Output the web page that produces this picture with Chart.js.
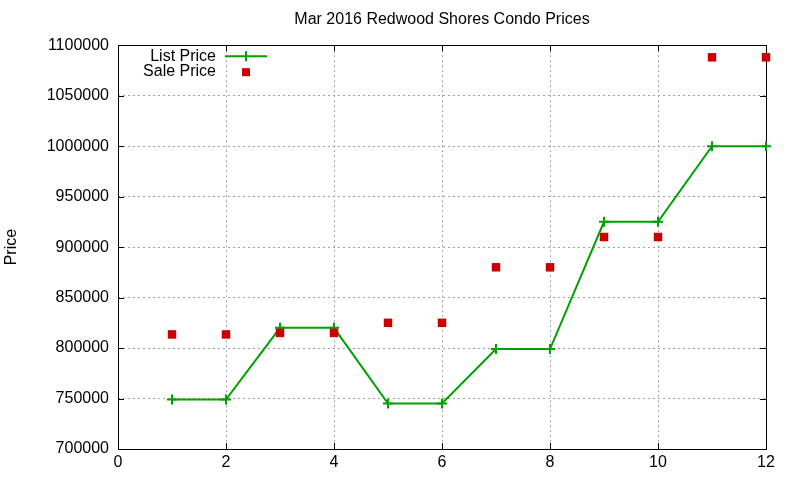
<!DOCTYPE html>
<html>
<head>
<meta charset="utf-8">
<script src="https://cdn.jsdelivr.net/npm/chart.js@4/dist/chart.umd.min.js"></script>
<style>
  html, body { margin: 0; padding: 0; background: #fff; }
  #wrap { width: 800px; height: 480px; }
</style>
</head>
<body>
<div id="wrap"><canvas id="priceChart" width="800" height="480"></canvas></div>
<script>
// chart data
const months = [1, 2, 3, 4, 5, 6, 7, 8, 9, 10, 11, 12];
const listPrice = [749000, 749000, 820000, 820000, 745000, 745000, 799000, 799000, 925000, 925000, 1000000, 1000000];
const salePrice = [813500, 813500, 815000, 815000, 825000, 825000, 880000, 880000, 910000, 910000, 1088000, 1088000];
const xTicks = [0, 2, 4, 6, 8, 10, 12];
const yTicks = [700000, 750000, 800000, 850000, 900000, 950000, 1000000, 1050000, 1100000];

const FONT = "'Liberation Sans', Arial, sans-serif";

// gnuplot style frame: border box plus short ticks pointing inward
// drawn before the datasets so points on the edge sit on top
const framePlugin = {
  id: "frame",
  beforeDatasetsDraw(chart) {
    const { ctx, chartArea: a, scales } = chart;
    ctx.save();
    ctx.strokeStyle = "#000";
    ctx.lineWidth = 1;
    ctx.beginPath();
    xTicks.forEach(function (t) {
      const px = Math.round(scales.x.getPixelForValue(t)) + 0.5;
      ctx.moveTo(px, a.bottom); ctx.lineTo(px, a.bottom - 6);
      ctx.moveTo(px, a.top); ctx.lineTo(px, a.top + 6);
    });
    yTicks.forEach(function (t) {
      const py = Math.round(scales.y.getPixelForValue(t)) + 0.5;
      ctx.moveTo(a.left, py); ctx.lineTo(a.left + 6, py);
      ctx.moveTo(a.right, py); ctx.lineTo(a.right - 6, py);
    });
    ctx.stroke();
    ctx.strokeRect(Math.round(a.left) + 0.5, Math.round(a.top) + 0.5,
      Math.round(a.right - a.left), Math.round(a.bottom - a.top));
    ctx.restore();
  }
};

// legend inside the plot, top left, like gnuplot's key
const keyPlugin = {
  id: "key",
  afterDraw(chart) {
    const { ctx, chartArea: a } = chart;
    const textRight = a.left + 98;
    const sampleMid = a.left + 128;
    ctx.save();
    ctx.font = "16px " + FONT;
    ctx.fillStyle = "#000";
    ctx.textAlign = "right";
    ctx.textBaseline = "middle";
    ctx.fillText("List Price", textRight, a.top + 11);
    ctx.fillText("Sale Price", textRight, a.top + 26);

    ctx.strokeStyle = "#00a000";
    ctx.lineWidth = 2;
    ctx.beginPath();
    ctx.moveTo(sampleMid - 21, a.top + 11);
    ctx.lineTo(sampleMid + 21, a.top + 11);
    ctx.moveTo(sampleMid, a.top + 6);
    ctx.lineTo(sampleMid, a.top + 16);
    ctx.stroke();

    ctx.fillStyle = "#cc0000";
    ctx.fillRect(sampleMid - 4, a.top + 23, 8, 8);
    ctx.restore();
  }
};

const ctx = document.getElementById("priceChart").getContext("2d");
new Chart(ctx, {
  type: "line",
  data: {
    datasets: [
      {
        label: "Sale Price",
        data: months.map((m, i) => ({ x: m, y: salePrice[i] })),
        showLine: false,
        clip: false,
        pointStyle: "rect",
        pointRadius: 6,
        pointBorderWidth: 0,
        pointBackgroundColor: "#cc0000",
        pointBorderColor: "#cc0000",
        order: 0,
      },
      {
        label: "List Price",
        data: months.map((m, i) => ({ x: m, y: listPrice[i] })),
        clip: false,
        borderColor: "#00a000",
        borderWidth: 2,
        tension: 0,
        pointStyle: "cross",
        pointRadius: 5,
        pointBorderWidth: 2,
        pointBorderColor: "#00a000",
        order: 1,
      },
    ],
  },
  options: {
    responsive: false,
    animation: false,
    layout: { padding: { left: 0, right: 34, top: 0, bottom: 0 } },
    scales: {
      x: {
        type: "linear",
        min: 0,
        max: 12,
        afterBuildTicks: (scale) => { scale.ticks = xTicks.map((v) => ({ value: v })); },
        afterFit: (scale) => { scale.height = 31; },
        ticks: { color: "#000", font: { family: FONT, size: 16 }, padding: 4, maxRotation: 0 },
        grid: { color: "#a0a0a0", lineWidth: 1, drawTicks: false },
        border: { display: false, dash: [2, 3] },
      },
      y: {
        min: 700000,
        max: 1100000,
        afterBuildTicks: (scale) => { scale.ticks = yTicks.map((v) => ({ value: v })); },
        afterFit: (scale) => { scale.width = 118; },
        ticks: {
          color: "#000",
          font: { family: FONT, size: 16 },
          padding: 9,
          callback: (v) => String(v),
        },
        grid: { color: "#a0a0a0", lineWidth: 1, drawTicks: false },
        border: { display: false, dash: [2, 3] },
        title: {
          display: true,
          text: "Price",
          color: "#000",
          font: { family: FONT, size: 16 },
          padding: { top: 2, bottom: 0 },
        },
      },
    },
    plugins: {
      legend: { display: false },
      tooltip: { enabled: false },
      title: {
        display: true,
        text: "Mar 2016 Redwood Shores Condo Prices",
        color: "#000",
        fullSize: false,
        font: { family: FONT, size: 16, weight: "normal" },
        padding: { top: 10, bottom: 16 },
      },
    },
  },
  plugins: [framePlugin, keyPlugin],
});
</script>
</body>
</html>
